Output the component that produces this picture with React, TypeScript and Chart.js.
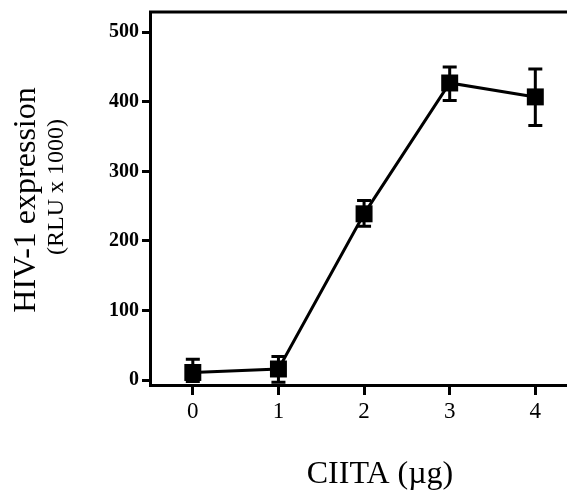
import React, { useEffect, useRef } from "react";
import { Chart, registerables } from "chart.js";
Chart.register(...registerables);

const doses = [0, 1, 2, 3, 4];
const means = [11, 16, 239, 427, 407];
const errUpper = [30, 34, 258, 450, 447];
const errLower = [-2, -3, 221, 402, 366];
const yTicks = [0, 100, 200, 300, 400, 500];
const xTicks = [0, 1, 2, 3, 4];

const FONT = "'Liberation Serif', 'DejaVu Serif', serif";

const deco = {
  id: "deco",
  beforeDatasetsDraw(chart: any) {
    const { ctx, chartArea, scales } = chart;
    const x = scales.x, y = scales.y;
    ctx.save();
    ctx.strokeStyle = "#000";
    ctx.lineWidth = 3;
    ctx.beginPath();
    ctx.moveTo(chartArea.left - 1, chartArea.top);
    ctx.lineTo(chart.width, chartArea.top);
    ctx.stroke();
    doses.forEach((d, i) => {
      const px = x.getPixelForValue(d);
      const pt = y.getPixelForValue(errUpper[i]);
      const pb = y.getPixelForValue(errLower[i]);
      ctx.beginPath();
      ctx.moveTo(px, pt);
      ctx.lineTo(px, pb);
      ctx.moveTo(px - 7, pt);
      ctx.lineTo(px + 7, pt);
      ctx.moveTo(px - 7, pb);
      ctx.lineTo(px + 7, pb);
      ctx.stroke();
    });
    ctx.restore();
  },
  afterDraw(chart: any) {
    const { ctx } = chart;
    ctx.save();
    ctx.fillStyle = "#000";
    ctx.textAlign = "center";
    ctx.textBaseline = "alphabetic";
    ctx.translate(35, 200);
    ctx.rotate(-Math.PI / 2);
    ctx.font = `32px ${FONT}`;
    ctx.fillText("HIV-1 expression", 0, 0);
    ctx.font = `24px ${FONT}`;
    ctx.fillText("(RLU x 1000)", 13, 28);
    ctx.restore();
    ctx.save();
    ctx.fillStyle = "#000";
    ctx.textAlign = "center";
    ctx.textBaseline = "alphabetic";
    ctx.font = `32px ${FONT}`;
    ctx.fillText("CIITA (\u00b5g)", 380, 483);
    ctx.restore();
  },
};

export default function App() {
  const ref = useRef<HTMLCanvasElement>(null);
  useEffect(() => {
    const chart = new Chart(ref.current!, {
      type: "line",
      data: {
        datasets: [
          {
            data: doses.map((d, i) => ({ x: d, y: means[i] })),
            borderColor: "#000",
            backgroundColor: "#000",
            borderWidth: 3,
            pointStyle: "rect",
            pointRadius: 12,
            pointBackgroundColor: "#000",
            pointBorderWidth: 0,
            tension: 0,
          },
        ],
      },
      plugins: [deco],
      options: {
        animation: false,
        responsive: false,
        layout: { autoPadding: false, padding: { top: 12, right: 0, left: 0, bottom: 0 } },
        plugins: { legend: { display: false }, tooltip: { enabled: false } },
        scales: {
          x: {
            type: "linear",
            min: -0.5,
            max: 4.37,
            afterBuildTicks: (s: any) => {
              s.ticks = xTicks.map((v) => ({ value: v }));
            },
            afterFit: (s: any) => {
              s.height = 106;
              s.paddingLeft = 0;
              s.paddingRight = 0;
            },
            grid: { drawOnChartArea: false, drawTicks: true, tickLength: 10, tickWidth: 3, color: "#000" },
            border: { display: true, color: "#000", width: 3 },
            ticks: { color: "#000", font: { family: FONT, size: 23 }, padding: 3 },
          },
          y: {
            type: "linear",
            min: -7,
            max: 529,
            afterBuildTicks: (s: any) => {
              s.ticks = yTicks.map((v) => ({ value: v }));
            },
            afterFit: (s: any) => {
              s.width = 150;
              s.paddingTop = 0;
              s.paddingBottom = 0;
            },
            grid: { drawOnChartArea: false, drawTicks: true, tickLength: 8, tickWidth: 3, color: "#000" },
            border: { display: true, color: "#000", width: 3 },
            ticks: { color: "#000", font: { family: FONT, size: 20, weight: "bold" }, padding: 3 },
          },
        },
      },
    } as any);
    return () => chart.destroy();
  }, []);
  return (
    <div style={{ position: "absolute", left: 0, top: 0, width: 567, height: 491, background: "#fff" }}>
      <canvas ref={ref} width={567} height={491} style={{ width: 567, height: 491, display: "block" }} />
    </div>
  );
}
